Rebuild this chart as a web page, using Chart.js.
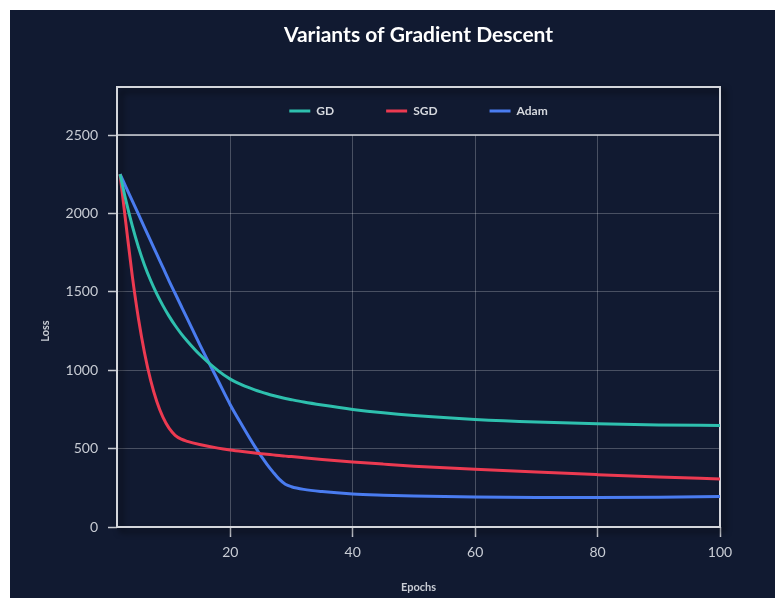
<!DOCTYPE html>
<html>
<head>
<meta charset="utf-8">
<script src="https://cdn.jsdelivr.net/npm/chart.js@4/dist/chart.umd.min.js"></script>
<style>
  html, body { margin: 0; padding: 0; background: #ffffff; }
  #panel {
    position: absolute; left: 10px; top: 10px;
    width: 765px; height: 588px;
    background: #111a31;
  }
</style>
</head>
<body>
<div id="panel"><canvas id="chart"></canvas></div>
<script>
// Sampled epochs and training loss for each optimiser
const epochs = [2, 3, 4, 5, 6, 7, 8, 9, 10, 11, 12, 13, 15, 18, 20, 22, 24, 25, 26, 27, 28, 29, 30, 32, 35, 40, 45, 50, 60, 70, 80, 90, 100];
const gdLoss = [2250, 2075, 1920, 1785, 1670, 1572, 1487, 1412, 1345, 1285, 1232, 1185, 1100, 997, 943, 905, 875, 862, 850, 839, 829, 820, 812, 797, 778, 750, 728, 711, 686, 669, 658, 651, 647];
const sgdLoss = [2250, 1920, 1600, 1330, 1110, 935, 800, 700, 630, 585, 560, 546, 526, 503, 491, 481, 472, 468, 464, 460, 456, 452, 449, 442, 431, 415, 401, 388, 368, 350, 334, 319, 306];
const adamLoss = [2250, 2165, 2080, 1995, 1910, 1825, 1740, 1655, 1570, 1489, 1408, 1327, 1165, 934, 780, 644, 514, 455, 400, 350, 305, 273, 257, 240, 226, 211, 203, 197, 191, 188, 188, 190, 194];

const seriesNames = ['GD', 'SGD', 'Adam'];
const seriesColors = ['#2ec0ae', '#ec3a51', '#4a7cf0'];
const xTicks = [20, 40, 60, 80, 100];
const yTicks = [0, 500, 1000, 1500, 2000, 2500];

const chartTitle = 'Variants of Gradient Descent';
const xTitle = 'Epochs';
const yTitle = 'Loss';

const pairs = (ys) => epochs.map((e, i) => ({ x: e, y: ys[i] }));
const allLoss = [gdLoss, sgdLoss, adamLoss];

// Framed box around the legend strip and the plot, with a soft drop shadow
const framePlugin = {
  id: 'frame',
  beforeDatasetsDraw(chart) {
    const { ctx, chartArea: a } = chart;
    const top = a.top - 48;
    ctx.save();
    ctx.shadowColor = 'rgba(0,0,0,0.75)';
    ctx.shadowBlur = 6;
    ctx.shadowOffsetX = 4;
    ctx.shadowOffsetY = 4;
    ctx.strokeStyle = '#d4d6dc';
    ctx.lineWidth = 2;
    ctx.strokeRect(a.left, top, a.right - a.left, a.bottom - top);
    ctx.restore();
    ctx.save();
    ctx.strokeStyle = '#cfd2d8';
    ctx.lineWidth = 1.5;
    ctx.beginPath();
    ctx.moveTo(a.left, a.top);
    ctx.lineTo(a.right, a.top);
    ctx.stroke();
    ctx.restore();
  }
};

const gridColor = 'rgba(255,255,255,0.24)';
const tickText = '#c8ccd4';
const fontFamily = 'Lato, "Open Sans", sans-serif';

new Chart(document.getElementById('chart'), {
  type: 'line',
  data: {
    datasets: seriesNames.map((name, i) => ({
      label: name,
      data: pairs(allLoss[i]),
      borderColor: seriesColors[i],
      backgroundColor: seriesColors[i],
      borderWidth: 3,
      pointRadius: 0,
      cubicInterpolationMode: 'monotone',
      fill: false
    }))
  },
  options: {
    responsive: true,
    maintainAspectRatio: false,
    animation: false,
    events: [],
    layout: { padding: { left: 25, right: 55, top: 0, bottom: 0 } },
    plugins: {
      title: {
        display: true,
        text: chartTitle,
        color: '#ffffff',
        fullSize: false,
        font: { family: fontFamily, size: 21, weight: 'bold' },
        padding: { top: 13, bottom: 4.8 }
      },
      legend: {
        display: true,
        position: 'top',
        fullSize: false,
        labels: {
          color: '#d5d8de',
          font: { family: fontFamily, size: 12, weight: 'bold' },
          boxWidth: 21,
          boxHeight: 3,
          padding: 52,
          generateLabels(chart) {
            return Chart.defaults.plugins.legend.labels.generateLabels(chart)
              .map(item => Object.assign(item, { lineWidth: 0 }));
          }
        }
      },
      tooltip: { enabled: false }
    },
    scales: {
      x: {
        type: 'linear',
        position: 'bottom',
        min: 1.5,
        max: 100,
        afterBuildTicks(scale) { scale.ticks = xTicks.map(v => ({ value: v })); },
        afterFit(scale) { scale.height = 71; },
        grid: { color: gridColor, lineWidth: 1, tickLength: 10, tickColor: '#c8cbd2', tickWidth: 1.5 },
        border: { display: false },
        ticks: { color: tickText, padding: 7, font: { family: fontFamily, size: 14 }, maxRotation: 0, callback: v => String(v) },
        title: { display: true, text: xTitle, color: tickText, font: { family: fontFamily, size: 11, weight: 'bold' }, padding: { top: 4, bottom: 4 } }
      },
      spacer: {
        type: 'linear',
        position: 'top',
        display: true,
        grid: { display: false, drawTicks: false },
        border: { display: false },
        ticks: { display: false },
        afterFit(scale) { scale.height = 8; }
      },
      y: {
        type: 'linear',
        min: 0,
        max: 2500,
        afterBuildTicks(scale) { scale.ticks = yTicks.map(v => ({ value: v })); },
        afterFit(scale) { scale.width = 82; },
        grid: { color: gridColor, lineWidth: 1, tickLength: 9, tickColor: '#c8cbd2', tickWidth: 1.5 },
        border: { display: false },
        ticks: { color: tickText, padding: 10, font: { family: fontFamily, size: 14 }, callback: v => String(v) },
        title: { display: true, text: yTitle, color: tickText, font: { family: fontFamily, size: 11, weight: 'bold' }, padding: { top: 4, bottom: 4 } }
      }
    }
  },
  plugins: [framePlugin]
});
</script>
</body>
</html>
